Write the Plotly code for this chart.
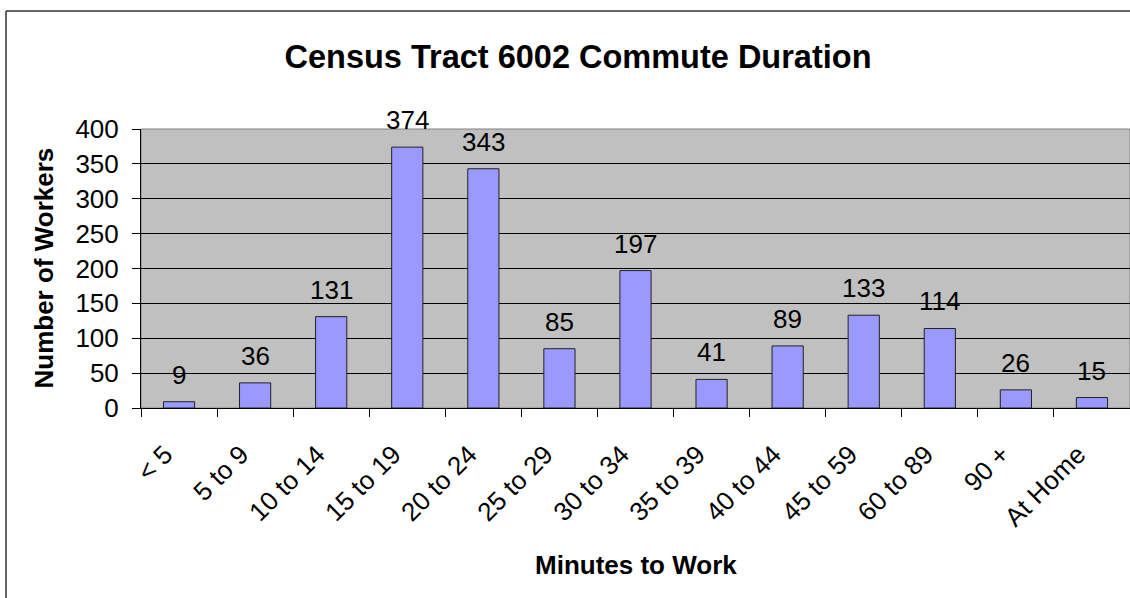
import plotly.graph_objects as go

categories = ["< 5", "5 to 9", "10 to 14", "15 to 19", "20 to 24", "25 to 29",
              "30 to 34", "35 to 39", "40 to 44", "45 to 59", "60 to 89",
              "90 +", "At Home"]
workers = [9, 36, 131, 374, 343, 85, 197, 41, 89, 133, 114, 26, 15]

W, H = 1130, 598
L, R, T, B = 141, 0, 129, 190
FONT = "Arial, Liberation Sans, sans-serif"


def px_x(p):
    return (p - L) / (W - L - R)


def px_y(p):
    return (H - B - p) / (H - T - B)


fig = go.Figure()

fig.add_trace(go.Bar(
    x=categories, y=workers,
    marker=dict(color="#9999FF", line=dict(color="#222222", width=1)),
    hoverinfo="x+y",
))

# value labels above bars
for c, v in zip(categories, workers):
    fig.add_annotation(
        x=c, y=v, text=str(v), showarrow=False,
        yanchor="bottom", yshift=10,
        font=dict(family=FONT, size=26, color="black"),
    )

# axis titles
fig.add_annotation(
    xref="paper", yref="paper", x=0.5, y=px_y(565),
    xanchor="center", yanchor="middle",
    text="<b>Minutes to Work</b>", showarrow=False,
    font=dict(family=FONT, size=26, color="black"),
)
fig.add_annotation(
    xref="paper", yref="paper", x=px_x(43), y=0.5, textangle=-90,
    xanchor="center", yanchor="middle",
    text="<b>Number of Workers</b>", showarrow=False,
    font=dict(family=FONT, size=26, color="black"),
)

# plot area border and outer chart frame
fig.add_shape(type="rect", xref="paper", yref="paper", x0=0, y0=0, x1=1, y1=1,
              line=dict(color="#808080", width=1), layer="below")
fig.add_shape(type="line", xref="paper", yref="paper",
              x0=px_x(6), y0=px_y(11), x1=px_x(6), y1=px_y(600),
              line=dict(color="#333333", width=1.5))
fig.add_shape(type="line", xref="paper", yref="paper",
              x0=px_x(6), y0=px_y(11), x1=px_x(1135), y1=px_y(11),
              line=dict(color="#333333", width=1.5))

fig.update_layout(
    width=W, height=H,
    margin=dict(l=L, r=R, t=T, b=B),
    paper_bgcolor="white",
    plot_bgcolor="#C0C0C0",
    bargap=0.59,
    showlegend=False,
    title=dict(
        text="<b>Census Tract 6002 Commute Duration</b>",
        x=578 / W, xanchor="center", xref="container",
        y=1 - 57 / H, yanchor="middle", yref="container",
        font=dict(family=FONT, size=32.5, color="black"),
    ),
    font=dict(family=FONT, color="black"),
)

fig.update_xaxes(
    type="category", tickangle=-45, tickson="boundaries",
    ticks="outside", ticklen=8, tickcolor="black",
    showline=True, linecolor="black", linewidth=1,
    showgrid=False,
    tickfont=dict(family=FONT, size=26, color="black"),
    ticklabelstandoff=20, ticklabelshift=-14,
)
fig.update_yaxes(
    range=[0, 400], dtick=50, tick0=0,
    ticks="outside", ticklen=8, tickcolor="black",
    showline=True, linecolor="black", linewidth=1,
    showgrid=True, gridcolor="black", gridwidth=1,
    zeroline=False,
    tickfont=dict(family=FONT, size=26, color="black"),
    ticklabelstandoff=8,
)

fig.write_html(
    "out.html",
    config={"displayModeBar": False},
    post_script="document.body.style.margin='0';document.body.style.overflow='hidden';",
)
